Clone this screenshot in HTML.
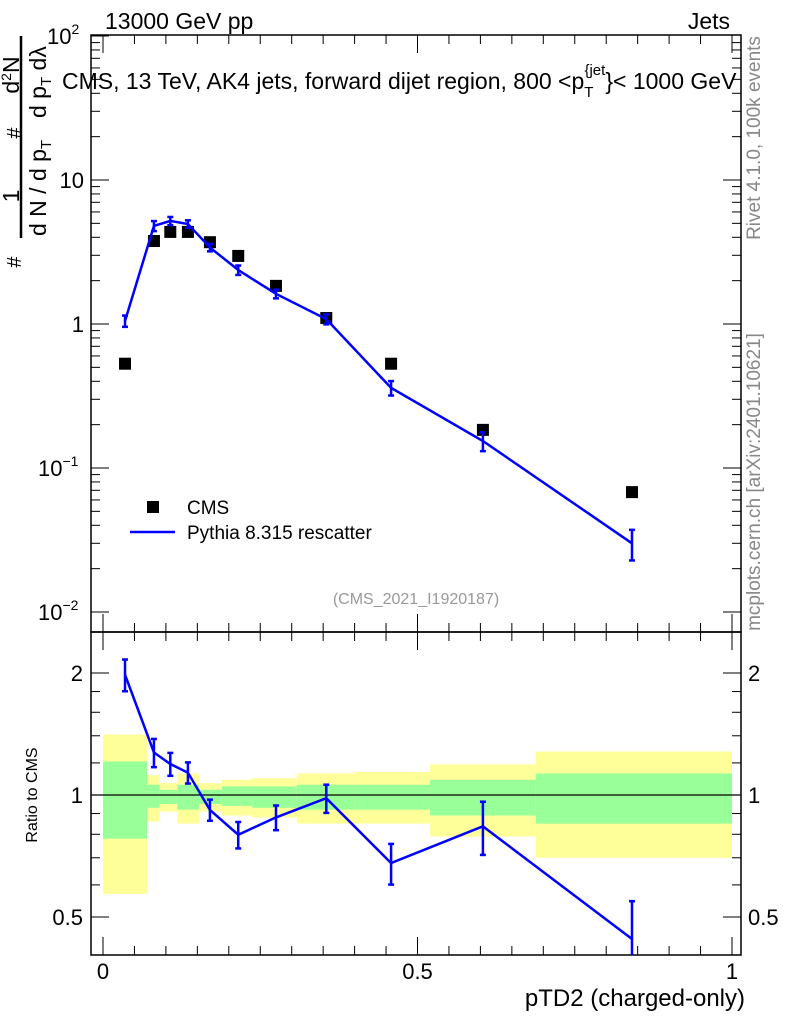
<!DOCTYPE html>
<html><head><meta charset="utf-8"><style>
body{margin:0;background:#fff}
svg{display:block;font-family:"Liberation Sans",sans-serif}
</style></head><body>
<svg id="chart" width="786" height="1024" viewBox="0 0 786 1024" xmlns="http://www.w3.org/2000/svg">
<g id="bands"></g>
<g id="axes"></g>
<g id="marks"></g>
<text x="105" y="29" font-size="23">13000 GeV pp</text>
<text x="730" y="29" font-size="23" text-anchor="end">Jets</text>
<text x="62" y="89" font-size="23">CMS, 13 TeV, AK4 jets, forward dijet region, 800 &lt;p<tspan font-size="15" dy="8">T</tspan><tspan font-size="15" dy="-22" dx="-9">{jet</tspan><tspan dy="14">}&lt; 1000 GeV</tspan></text>
<text x="416" y="604" font-size="16" fill="#999" text-anchor="middle">(CMS_2021_I1920187)</text>
<g transform="translate(760,138) rotate(-90)"><text font-size="19" fill="#888" text-anchor="middle">Rivet 4.1.0,  100k events</text></g>
<g transform="translate(760,482) rotate(-90)"><text font-size="19" fill="#888" text-anchor="middle">mcplots.cern.ch [arXiv:2401.10621]</text></g>
<g font-size="23">
<line x1="21" y1="36" x2="21" y2="238" stroke="#000" stroke-width="2.5"/>
<g transform="translate(19,75) rotate(-90)"><text text-anchor="middle">d<tspan font-size="14" dy="-8">2</tspan><tspan dy="8">N</tspan></text></g>
<g transform="translate(21,133) rotate(-90)"><text text-anchor="middle" font-size="20">#</text></g>
<g transform="translate(19,196) rotate(-90)"><text text-anchor="middle">1</text></g>
<g transform="translate(21,262) rotate(-90)"><text text-anchor="middle" font-size="20">#</text></g>
<g transform="translate(46,236) rotate(-90)"><text>d N / d p<tspan font-size="15" dy="5">T</tspan></text></g>
<g transform="translate(46,118) rotate(-90)"><text>d p<tspan font-size="15" dy="5">T</tspan><tspan dy="-5"> dλ</tspan></text></g>
</g>
<g transform="translate(37,795) rotate(-90)"><text font-size="16" text-anchor="middle">Ratio to CMS</text></g>
<text x="745" y="1006" font-size="24" text-anchor="end">pTD2 (charged-only)</text>
<g>
<rect x="147" y="501" width="12" height="12" fill="#000"/>
<text x="187" y="514" font-size="19">CMS</text>
<line x1="130" y1="532" x2="175" y2="532" stroke="#00f" stroke-width="2.5"/>
<text x="187" y="539" font-size="19">Pythia 8.315 rescatter</text>
</g>
</svg>
<script>
const binEdges=[0,0.07,0.09,0.118,0.153,0.189,0.237,0.308,0.4,0.52,0.688,1.0];
const xCenters=[0.035,0.081,0.107,0.135,0.170,0.215,0.275,0.355,0.458,0.604,0.841];
const cmsValues=[0.53,3.77,4.36,4.36,3.7,2.97,1.84,1.1,0.53,0.184,0.068];
const mcValues=[1.05,4.8,5.2,4.95,3.4,2.37,1.62,1.08,0.36,0.154,0.030];
const mcRelErr=[0.09,0.08,0.065,0.06,0.06,0.075,0.07,0.08,0.115,0.15,0.24];
const band1Up=[1.21,1.06,1.03,1.06,1.03,1.05,1.05,1.06,1.06,1.09,1.13];
const band1Dn=[0.78,0.93,0.95,0.92,0.95,0.94,0.93,0.92,0.92,0.89,0.85];
const band2Up=[1.41,1.12,1.07,1.13,1.07,1.09,1.10,1.13,1.14,1.19,1.28];
const band2Dn=[0.57,0.86,0.91,0.85,0.91,0.89,0.88,0.85,0.85,0.79,0.70];
const xTicks=[0,0.5,1];
const ratioTicks=[2,1,0.5];
const NS='http://www.w3.org/2000/svg';
const L=91,R=741,T=35,MB=632,B=955;
const X=v=>103+v*629;
const Y=v=>324-Math.log10(v)*144;
const RY=v=>795-Math.log2(v)*122;
function mk(p,tag,at){const e=document.createElementNS(NS,tag);for(const k in at)e.setAttribute(k,at[k]);p.appendChild(e);return e;}
const bands=document.getElementById('bands'),axes=document.getElementById('axes'),marks=document.getElementById('marks');
for(let i=0;i<cmsValues.length;i++){
 const x0=X(binEdges[i]),x1=X(binEdges[i+1]);
 let r=mk(bands,'rect',{x:x0,y:RY(band2Up[i]),width:x1-x0,height:RY(band2Dn[i])-RY(band2Up[i]),fill:'#ffff99'});
 
 
 r=mk(bands,'rect',{x:x0,y:RY(band1Up[i]),width:x1-x0,height:RY(band1Dn[i])-RY(band1Up[i]),fill:'#99ff99'});
 
 
}
mk(axes,'rect',{x:L,y:T,width:R-L,height:MB-T,fill:'none',stroke:'#000','stroke-width':1.5});
mk(axes,'rect',{x:L,y:MB,width:R-L,height:B-MB,fill:'none',stroke:'#000','stroke-width':1.5});
mk(axes,'line',{x1:L,x2:R,y1:RY(1),y2:RY(1),stroke:'#000','stroke-width':1.2});
for(let d=-2;d<=1;d++){for(let m=1;m<10;m++){const v=m*Math.pow(10,d);const y=Y(v);if(y<T||y>MB)continue;const len=m==1?18:9;
 mk(axes,'line',{x1:L,x2:L+len,y1:y,y2:y,stroke:'#000'});mk(axes,'line',{x1:R,x2:R-len,y1:y,y2:y,stroke:'#000'});}}
mk(axes,'line',{x1:L,x2:L+18,y1:Y(100),y2:Y(100),stroke:'#000'});
const ylab=[[100,'10','2',47],[10,'10','',0],[1,'1','',0],[0.1,'10','−1',38],[0.01,'10','−2',38]];
ylab.forEach(a=>{const t=mk(axes,'text',{x:84,y:Y(a[0])+8,'font-size':22,'text-anchor':'end'});
 t.textContent=a[1];if(a[2]){const s=mk(t,'tspan',{'font-size':14,dy:-10});s.textContent=a[2];
 t.setAttribute('text-anchor','start');t.setAttribute('x',a[3]);}});
[0.5,0.6,0.7,0.8,0.9,1,1.2,1.4,1.6,1.8,2].forEach(v=>{const y=RY(v);const len=(v==0.5||v==1||v==2)?18:9;
 mk(axes,'line',{x1:L,x2:L+len,y1:y,y2:y,stroke:'#000'});mk(axes,'line',{x1:R,x2:R-len,y1:y,y2:y,stroke:'#000'});});
ratioTicks.forEach(v=>{let t=mk(axes,'text',{x:83,y:RY(v)+8,'font-size':22,'text-anchor':'end'});t.textContent=v;
 t=mk(axes,'text',{x:748,y:RY(v)+8,'font-size':22});t.textContent=v;});
for(let i=0;i<=20;i++){const v=i*0.05;const x=X(v);const len=i%10==0?18:9;
 [[T,1],[MB,-1],[MB,1],[B,-1]].forEach(p=>mk(axes,'line',{x1:x,x2:x,y1:p[0],y2:p[0]+p[1]*len,stroke:'#000'}));}
xTicks.forEach(v=>{const t=mk(axes,'text',{x:X(v),y:979,'font-size':22,'text-anchor':'middle'});t.textContent=v;});
cmsValues.forEach((v,i)=>{const r=mk(marks,'rect',{x:X(xCenters[i])-6,y:Y(v)-6,width:12,height:12,fill:'#000'});
 
 });
const pl=mk(marks,'polyline',{points:mcValues.map((v,i)=>X(xCenters[i])+','+Y(v)).join(' '),fill:'none',stroke:'#00f','stroke-width':2.5});


const ratio=mcValues.map((v,i)=>v/cmsValues[i]);
const rl=mk(marks,'polyline',{points:ratio.map((v,i)=>X(xCenters[i])+','+RY(v)).join(' '),fill:'none',stroke:'#00f','stroke-width':2.5});


function err(x,y1,y2,name){const g=mk(marks,'g',{stroke:'#00f','stroke-width':2.5});
 
 
 y2=Math.min(y2,B);
 mk(g,'line',{x1:x,x2:x,y1:y1,y2:y2});mk(g,'line',{x1:x-3,x2:x+3,y1:y1,y2:y1});if(y2<B)mk(g,'line',{x1:x-3,x2:x+3,y1:y2,y2:y2});}
mcValues.forEach((v,i)=>{const x=X(xCenters[i]);
 err(x,Y(v*(1+mcRelErr[i])),Y(v*(1-mcRelErr[i])),'pythia-error-bar');
 err(x,RY(ratio[i]*(1+mcRelErr[i])),RY(ratio[i]*(1-mcRelErr[i])),'ratio-error-bar');});
</script>
</body></html>
